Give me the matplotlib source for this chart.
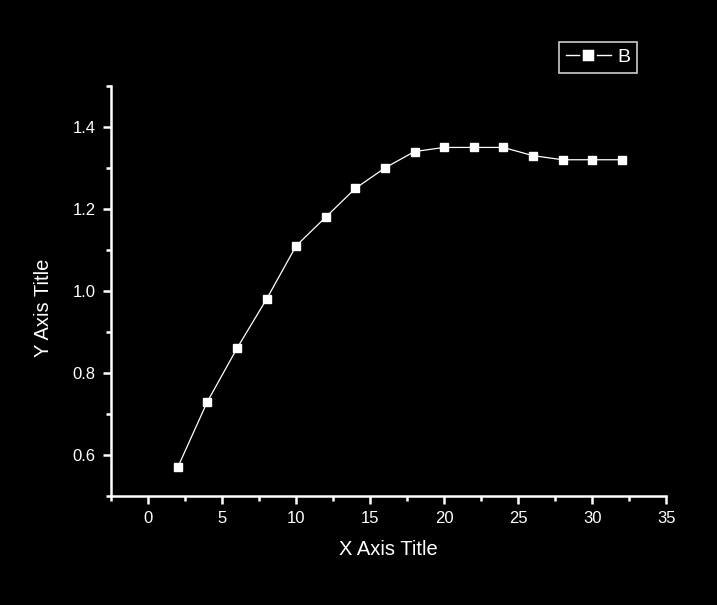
import numpy as np
import matplotlib
matplotlib.use('Agg')
import matplotlib.pyplot as plt
from matplotlib.ticker import MultipleLocator
from matplotlib.lines import Line2D

x_vals = [2, 4, 6, 8, 10, 12, 14, 16, 18, 20, 22, 24, 26, 28, 30, 32]
b_vals = [0.57, 0.73, 0.86, 0.98, 1.11, 1.18, 1.25, 1.30, 1.34, 1.35, 1.35, 1.35, 1.33, 1.32, 1.32, 1.32]
series_name = 'B'
x_title = 'X Axis Title'
y_title = 'Y Axis Title'

plt.rcParams['font.family'] = ['Liberation Sans', 'DejaVu Sans']

fig = plt.figure(figsize=(7.17, 6.05), dpi=100, facecolor='black')
ax = fig.add_axes([0.155, 0.180, 0.774, 0.678], facecolor='black')

ax.plot(x_vals, b_vals, color='white', lw=0.9, marker='s', markersize=5.6,
        markerfacecolor='white', markeredgecolor='white')

ax.set_xlim(-2.5, 35)
ax.set_ylim(0.5, 1.5)
ax.xaxis.set_major_locator(MultipleLocator(5))
ax.xaxis.set_minor_locator(MultipleLocator(2.5))
ax.yaxis.set_minor_locator(MultipleLocator(0.1))
ax.set_yticks([0.6, 0.8, 1.0, 1.2, 1.4])
ax.set_yticklabels(['0.6', '0.8', '1.0', '1.2', '1.4'])

for side in ['top', 'right']:
    ax.spines[side].set_visible(False)
for side in ['left', 'bottom']:
    ax.spines[side].set_color('white')
    ax.spines[side].set_linewidth(1.8)

ax.tick_params(which='major', direction='out', length=6, width=1.8, colors='white',
               labelsize=12, pad=5)
ax.tick_params(which='minor', direction='out', length=3.5, width=1.8, colors='white')

ax.set_xlabel(x_title, color='white', fontsize=14.5)
ax.set_ylabel(y_title, color='white', fontsize=14.5)
ax.xaxis.set_label_coords(0.5, -0.107)
ax.yaxis.set_label_coords(-0.105, 0.46)

# legend proxy: black marker edge leaves small gaps between line and square
proxy = Line2D([], [], color='white', lw=1, marker='s', markersize=10,
               markerfacecolor='white', markeredgecolor='black', markeredgewidth=1.8)
leg = ax.legend([proxy], [series_name], loc='upper right', bbox_to_anchor=(0.889, 0.931),
                bbox_transform=fig.transFigure, frameon=True, fancybox=False, fontsize=14,
                handlelength=2.3, borderpad=0.35, handletextpad=0.35, borderaxespad=0)
leg.get_frame().set_facecolor('black')
leg.get_frame().set_edgecolor('white')
leg.get_frame().set_linewidth(1.2)
for t in leg.get_texts():
    t.set_color('white')

fig.savefig('out.png', dpi=100, facecolor='black')
